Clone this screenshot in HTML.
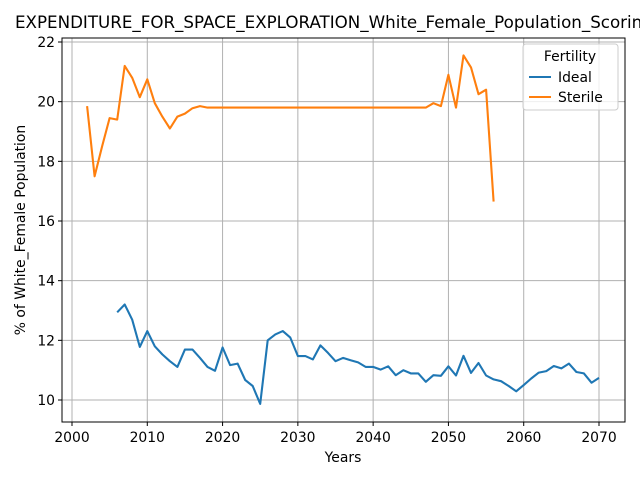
<!DOCTYPE html>
<html><head><meta charset="utf-8"><style>
body{margin:0;background:#fff;overflow:hidden;width:640px;height:480px}
svg{font-family:"DejaVu Sans","Liberation Sans",sans-serif}
</style></head><body>
<svg id="chart" width="640" height="480">
<text x="15" y="28" font-size="16.7">EXPENDITURE_FOR_SPACE_EXPLORATION_White_Female_Population_Scoring</text>
<g id="grid"></g><g id="lines"></g><g id="ticks"></g>
<rect x="62" y="38" width="563" height="384" fill="none" stroke="#000" stroke-width="1"/>
<text x="343" y="462" font-size="13.9" text-anchor="middle">Years</text>
<text transform="translate(25,230) rotate(-90)" font-size="13.9" text-anchor="middle">% of White_Female Population</text>
<g>
<rect x="523" y="44" width="95" height="66" rx="3" fill="#fff" fill-opacity="0.8" stroke="#ccc"/>
<text x="570" y="61" font-size="13.9" text-anchor="middle">Fertility</text>
<line x1="529" y1="77" x2="551" y2="77" stroke="#1f77b4" stroke-width="2.1"/>
<text x="558" y="82" font-size="13.9">Ideal</text>
<line x1="529" y1="97" x2="551" y2="97" stroke="#ff7f0e" stroke-width="2.1"/>
<text x="558" y="102" font-size="13.9">Sterile</text>
</g>
</svg>
<script>
const sterileStart = 2002;
const sterileValues = [19.85,17.5,18.5,19.45,19.4,21.2,20.8,20.15,20.75,19.95,19.5,19.1,19.5,19.6,19.78,19.85,19.8,19.8,19.8,19.8,19.8,19.8,19.8,19.8,19.8,19.8,19.8,19.8,19.8,19.8,19.8,19.8,19.8,19.8,19.8,19.8,19.8,19.8,19.8,19.8,19.8,19.8,19.8,19.8,19.8,19.8,19.95,19.85,20.9,19.8,21.55,21.15,20.25,20.4,16.65];
const idealStart = 2006;
const idealValues = [12.94,13.2,12.69,11.78,12.31,11.8,11.53,11.3,11.11,11.69,11.69,11.41,11.11,10.98,11.76,11.17,11.22,10.67,10.47,9.87,12.0,12.2,12.31,12.09,11.47,11.47,11.36,11.83,11.58,11.3,11.41,11.33,11.26,11.11,11.11,11.02,11.13,10.83,11.0,10.89,10.89,10.61,10.83,10.81,11.13,10.82,11.48,10.91,11.24,10.82,10.69,10.63,10.47,10.29,10.5,10.72,10.92,10.97,11.14,11.06,11.22,10.94,10.89,10.58,10.74];
const xTicks = [2000,2010,2020,2030,2040,2050,2060,2070];
const yTicks = [10,12,14,16,18,20,22];
const NS='http://www.w3.org/2000/svg';
const xs = v => 72 + (v-2000)*(527/70);
const ys = v => 400 - (v-10)*(358/12);
const grid=document.getElementById('grid'), tk=document.getElementById('ticks'), ln=document.getElementById('lines');
function mk(tag,attrs,parent){const e=document.createElementNS(NS,tag);for(const k in attrs)e.setAttribute(k,attrs[k]);parent.appendChild(e);return e;}
xTicks.forEach(t=>{
  const g=mk('line',{x1:xs(t),x2:xs(t),y1:38,y2:422,stroke:'#b0b0b0','stroke-width':1},grid);
  
  
  mk('line',{x1:xs(t),x2:xs(t),y1:422,y2:426,stroke:'#000'},tk);
  const l=mk('text',{x:xs(t),y:442,'font-size':13.9,'text-anchor':'middle'},tk);l.textContent=t;
  
  
});
yTicks.forEach(t=>{
  const g=mk('line',{x1:62,x2:625,y1:ys(t),y2:ys(t),stroke:'#b0b0b0','stroke-width':1},grid);
  
  
  mk('line',{x1:58,x2:62,y1:ys(t),y2:ys(t),stroke:'#000'},tk);
  const l=mk('text',{x:55,y:ys(t)+5,'font-size':13.9,'text-anchor':'end'},tk);l.textContent=t;
  
  
});
function series(start,vals,color,name){
  const pts=vals.map((v,i)=>xs(start+i).toFixed(1)+','+ys(v).toFixed(1)).join(' ');
  const p=mk('polyline',{points:pts,fill:'none',stroke:color,'stroke-width':2.1,'stroke-linejoin':'round'},ln);
  
  
}
series(idealStart,idealValues,'#1f77b4','ideal-line');
series(sterileStart,sterileValues,'#ff7f0e','sterile-line');
</script>
</body></html>
